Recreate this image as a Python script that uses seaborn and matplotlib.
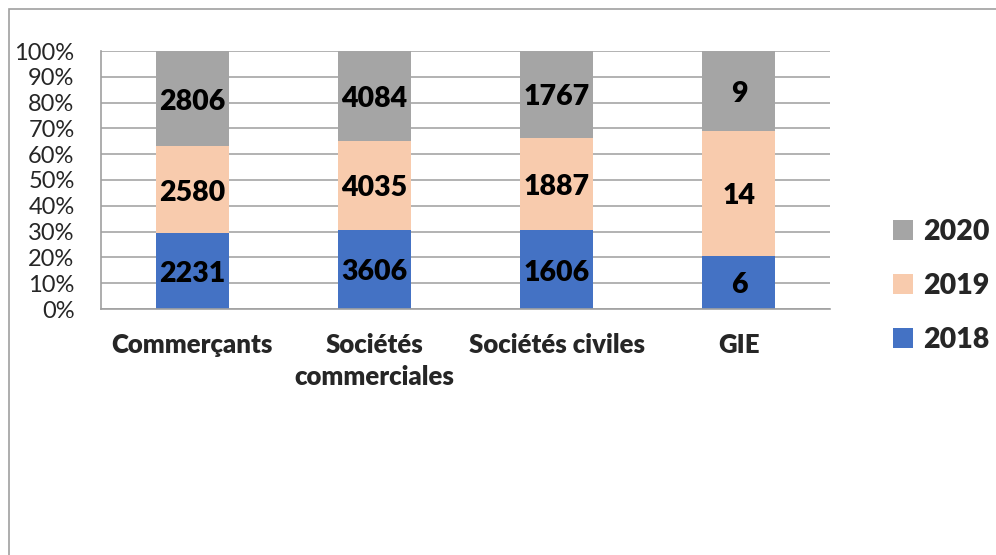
import pandas as pd
import numpy as np
import matplotlib
matplotlib.use("Agg")
import matplotlib.pyplot as plt
import seaborn as sns
from matplotlib.patches import Rectangle

# Data
categories = ["Commerçants", "Sociétés\ncommerciales", "Sociétés civiles", "GIE"]
years = ["2018", "2019", "2020"]
v2018 = [2231, 3606, 1606, 6]
v2019 = [2580, 4035, 1887, 14]
v2020 = [2806, 4084, 1767, 9]
colors = {"2018": "#4472C4", "2019": "#F8CBAD", "2020": "#A5A5A5"}

df = pd.DataFrame({"Catégorie": categories, "2018": v2018, "2019": v2019, "2020": v2020})
totals = df[years].sum(axis=1)
pct = df[years].div(totals, axis=0) * 100
bottoms = pct.cumsum(axis=1) - pct

sns.set_theme(style="white")
plt.rcParams["font.family"] = ["Lato", "DejaVu Sans"]

fig = plt.figure(figsize=(9.96, 5.55), dpi=100)
ax = fig.add_axes([101 / 996, 1 - 309 / 555, 729 / 996, 258 / 555])

# figure frame
fig.patches.append(Rectangle((9 / 996, -0.05), 1.1, 1 - 9 / 555 + 0.05, transform=fig.transFigure,
                             fill=False, edgecolor="#a0a0a0", linewidth=1.2))

for y in years:
    sns.barplot(x=df["Catégorie"], y=pct[y], bottom=bottoms[y], color=colors[y], width=0.4,
                ax=ax, label=y, saturation=1, edgecolor="none", linewidth=0)
    for i, (p, b, v) in enumerate(zip(pct[y], bottoms[y], df[y])):
        ax.text(i, b + p / 2 - 1.2, str(v), ha="center", va="center", fontsize=20.5,
                fontweight="heavy", color="black")

ax.set_ylim(0, 100)
ax.set_xlim(-0.5, 3.5)
ax.set_yticks(np.arange(0, 101, 10))
ax.set_yticklabels([f"{t}%" for t in range(0, 101, 10)], fontsize=17)
ax.set_xticks(range(4))
ax.set_xticklabels(categories, fontsize=18.5, fontweight="heavy", va="top", linespacing=1.4)
ax.set_xticks(np.arange(-0.5, 4, 1), minor=True)
ax.tick_params(axis="x", which="major", length=0, pad=17)
ax.tick_params(axis="x", which="minor", length=8, width=1, color="#a0a0a0", direction="out")
ax.tick_params(axis="y", length=8, width=1, color="#a0a0a0", direction="out", pad=11)
ax.set_xlabel("")
ax.set_ylabel("")
ax.yaxis.grid(True, color="#a6a6a6", linewidth=1.2)
ax.set_axisbelow(True)
for s in ["top", "right"]:
    ax.spines[s].set_visible(False)
for s in ["left", "bottom"]:
    ax.spines[s].set_color("#a0a0a0")
    ax.spines[s].set_linewidth(1.2)

handles, labels = ax.get_legend_handles_labels()
order = [labels.index(y) for y in ["2020", "2019", "2018"]]
ax.legend([handles[i] for i in order], [labels[i] for i in order], loc="center left",
          bbox_to_anchor=(893 / 996, 1 - 286 / 555), bbox_transform=fig.transFigure,
          borderaxespad=0, borderpad=0, frameon=False,
          prop={"size": 20.5, "weight": "heavy"},
          handlelength=0.7, handleheight=0.7, handletextpad=0.35, labelspacing=0.98)

fig.savefig("out.png", dpi=100, facecolor="white")
